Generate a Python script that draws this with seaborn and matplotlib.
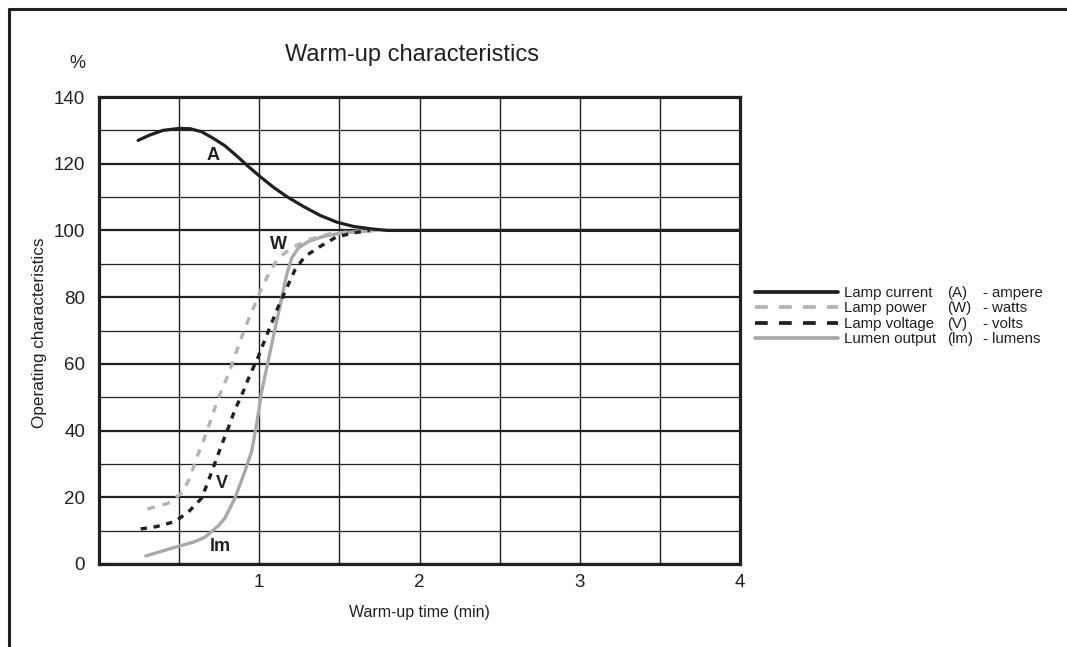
import matplotlib
matplotlib.use("Agg")
import matplotlib.pyplot as plt
from matplotlib.lines import Line2D
import seaborn as sns
import pandas as pd

# ---- data ----
current_t = [0.244, 0.317, 0.40, 0.504, 0.567, 0.64, 0.71, 0.785, 0.858, 0.931, 1.004, 1.087,
             1.17, 1.275, 1.38, 1.483, 1.587, 1.71, 1.80, 4.0]
current_v = [127.0, 128.6, 130.0, 130.6, 130.5, 129.6, 127.7, 125.4, 122.4, 119.2, 116.2, 113.0,
             110.2, 107.2, 104.5, 102.5, 101.2, 100.4, 100.0, 100.0]

power_t = [0.302, 0.431, 0.515, 0.567, 0.608, 0.65, 0.702, 0.744, 0.806, 0.858, 0.91, 0.963,
           1.015, 1.067, 1.119, 1.21, 1.32, 1.44, 1.61, 1.72]
power_v = [16.5, 18.2, 21.2, 25.7, 31.7, 36.7, 43.7, 49.7, 56.7, 63.7, 70.7, 76.7,
           82.7, 87.7, 91.7, 95.0, 97.4, 99.0, 99.8, 100.0]

voltage_t = [0.26, 0.358, 0.473, 0.556, 0.64, 0.681, 0.723, 0.765, 0.806, 0.848, 0.90, 0.942,
             0.99, 1.031, 1.077, 1.119, 1.171, 1.223, 1.285, 1.38, 1.48, 1.59, 1.69]
voltage_v = [10.5, 11.2, 12.7, 15.5, 19.7, 24.7, 30.2, 35.7, 40.7, 46.2, 51.7, 56.7,
             61.7, 66.7, 72.2, 77.2, 82.7, 88.2, 92.2, 95.2, 98.0, 99.3, 100.0]

lumen_t = [0.292, 0.452, 0.598, 0.66, 0.702, 0.745, 0.785, 0.848, 0.91, 0.952, 0.983, 1.015,
           1.046, 1.077, 1.108, 1.14, 1.171, 1.202, 1.244, 1.306, 1.40, 1.52, 1.73]
lumen_v = [2.4, 4.7, 6.7, 8.0, 9.7, 11.5, 13.7, 19.7, 27.7, 33.7, 41.7, 51.7,
           58.7, 65.7, 72.7, 79.7, 86.7, 91.7, 94.7, 96.7, 98.2, 99.3, 100.0]

series_names = ["Lamp current", "Lamp power", "Lamp voltage", "Lumen output"]
series_symbols = ["(A)", "(W)", "(V)", "(lm)"]
series_units = ["- ampere", "- watts", "- volts", "- lumens"]
curve_labels = ["A", "W", "V", "lm"]
label_t = [0.71, 1.12, 0.765, 0.754]
label_v = [122.6, 95.7, 24.2, 5.2]

y_ticks = [0, 20, 40, 60, 80, 100, 120, 140]
x_ticks = [0, 1, 2, 3, 4]
x_tick_labels = ["", "1", "2", "3", "4"]

# ---- styling ----
sns.set_style("white")
plt.rcParams["font.family"] = ["Liberation Sans", "DejaVu Sans"]

BLACK = "#231f20"
GRAY_SOLID = "#a7a9ac"
GRAY_DASH = "#b1b3b6"

fig = plt.figure(figsize=(10.67, 6.47), dpi=100)
ax = fig.add_axes([99 / 1067, 1 - 564 / 647, (740 - 99) / 1067, (564 - 97) / 647])

styles = [
    dict(color=BLACK, lw=2.3, ls="-"),
    dict(color=GRAY_DASH, lw=2.4, ls=(0, (2.3, 2.4))),
    dict(color=BLACK, lw=2.4, ls=(0, (1.9, 2.0))),
    dict(color=GRAY_SOLID, lw=2.4, ls="-"),
]
legend_ls = ["-", (0, (3.4, 3.0)), (0, (3.4, 3.0)), "-"]
data_sets = [(current_t, current_v), (power_t, power_v), (voltage_t, voltage_v), (lumen_t, lumen_v)]
zorders = [5, 3, 4, 2]

handles = []
for (t, v), st, lls, z in zip(data_sets, styles, legend_ls, zorders):
    df = pd.DataFrame({"t": t, "v": v})
    sns.lineplot(data=df, x="t", y="v", ax=ax, sort=False, estimator=None,
                 color=st["color"], linewidth=st["lw"], linestyle=st["ls"], zorder=z)
    handles.append(Line2D([], [], color=st["color"], lw=2.7, ls=lls))

for lab, tx, vy in zip(curve_labels, label_t, label_v):
    ax.text(tx, vy, lab, ha="center", va="center", fontsize=13, fontweight="bold",
            color=BLACK, zorder=6)

ax.set_xlim(0, 4)
ax.set_ylim(0, 140)
ax.set_yticks(y_ticks)
ax.set_yticks(range(0, 141, 10), minor=True)
ax.set_xticks(x_ticks)
ax.set_xticks([0.5, 1.5, 2.5, 3.5], minor=True)
ax.set_xticklabels(x_tick_labels)
ax.tick_params(axis="both", which="both", length=0, labelsize=13.5, colors=BLACK)
ax.tick_params(axis="y", pad=10)
ax.tick_params(axis="x", pad=7)
ax.grid(True, axis="y", which="major", color=BLACK, lw=1.6, zorder=1)
ax.grid(True, axis="y", which="minor", color=BLACK, lw=0.9, zorder=1)
ax.grid(True, axis="x", which="both", color=BLACK, lw=1.0, zorder=1)
ax.set_axisbelow(True)
for s in ax.spines.values():
    s.set_visible(True)
    s.set_linewidth(2.3)
    s.set_color(BLACK)
    s.set_zorder(7)

ax.set_xlabel("Warm-up time (min)", fontsize=11.5, color=BLACK)
ax.xaxis.set_label_coords(0.5, -(605 - 564) / 467)
ax.set_ylabel("Operating characteristics", fontsize=12.3, color=BLACK)
ax.yaxis.set_label_coords(-(99 - 47) / 641, (564 - 333) / 467)

fig.text(412 / 1067, 1 - 55 / 647, "Warm-up characteristics", ha="center", va="center",
         fontsize=17, color=BLACK)
fig.text(77 / 1067, 1 - 64 / 647, "%", ha="center", va="center", fontsize=13, color=BLACK)

# legend: three aligned text columns sharing the same rows
leg_kw = dict(loc="center left", frameon=False, fontsize=10.8, labelspacing=0.10,
              borderpad=0, borderaxespad=0)
leg1 = fig.legend(handles, series_names, bbox_to_anchor=(755 / 1067, 1 - 316 / 647),
                  handlelength=5.5, handletextpad=0.45, **leg_kw)
leg2 = fig.legend([Line2D([], [], alpha=0) for _ in series_symbols], series_symbols,
                  bbox_to_anchor=(947 / 1067, 1 - 316 / 647),
                  handlelength=0, handletextpad=0, **leg_kw)
leg3 = fig.legend([Line2D([], [], alpha=0) for _ in series_units], series_units,
                  bbox_to_anchor=(983 / 1067, 1 - 316 / 647),
                  handlelength=0, handletextpad=0, **leg_kw)
for lg in (leg1, leg2, leg3):
    for txt in lg.get_texts():
        txt.set_color(BLACK)

# outer frame (left and top edges)
fig.add_artist(Line2D([8.5 / 1067, 8.5 / 1067], [0, 1 - 9 / 647], transform=fig.transFigure,
                      color=BLACK, lw=2.2))
fig.add_artist(Line2D([8.5 / 1067, 1.0], [1 - 9 / 647, 1 - 9 / 647], transform=fig.transFigure,
                      color=BLACK, lw=2.2))

fig.savefig("out.png", dpi=100, facecolor="white")
